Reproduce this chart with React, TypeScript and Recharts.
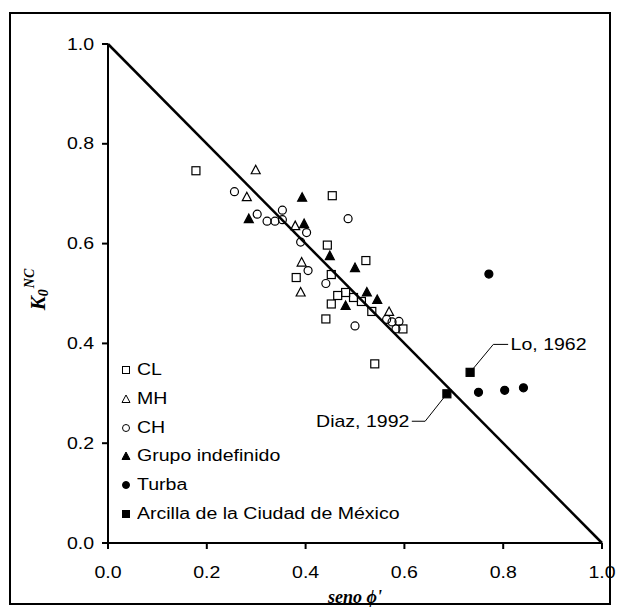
import React from "react";
import {
  ScatterChart,
  Scatter,
  XAxis,
  YAxis,
  ReferenceLine,
  ReferenceDot,
  Label,
} from "recharts";

// seno phi' (x) vs K0 NC (y)
const clPoints = [
  { x: 0.178, y: 0.746 }, { x: 0.454, y: 0.696 }, { x: 0.444, y: 0.597 },
  { x: 0.522, y: 0.566 }, { x: 0.381, y: 0.532 }, { x: 0.452, y: 0.538 },
  { x: 0.465, y: 0.496 }, { x: 0.481, y: 0.502 }, { x: 0.497, y: 0.492 },
  { x: 0.513, y: 0.484 }, { x: 0.452, y: 0.479 }, { x: 0.534, y: 0.464 },
  { x: 0.597, y: 0.429 }, { x: 0.441, y: 0.449 }, { x: 0.54, y: 0.359 },
];
const mhPoints = [
  { x: 0.299, y: 0.747 }, { x: 0.281, y: 0.693 }, { x: 0.379, y: 0.635 },
  { x: 0.392, y: 0.562 }, { x: 0.39, y: 0.502 }, { x: 0.569, y: 0.463 },
];
const chPoints = [
  { x: 0.256, y: 0.704 }, { x: 0.302, y: 0.659 }, { x: 0.322, y: 0.645 },
  { x: 0.338, y: 0.645 }, { x: 0.353, y: 0.648 }, { x: 0.353, y: 0.667 },
  { x: 0.402, y: 0.622 }, { x: 0.39, y: 0.603 }, { x: 0.405, y: 0.546 },
  { x: 0.486, y: 0.65 }, { x: 0.441, y: 0.52 }, { x: 0.5, y: 0.435 },
  { x: 0.564, y: 0.448 }, { x: 0.575, y: 0.443 }, { x: 0.589, y: 0.444 },
  { x: 0.583, y: 0.429 },
];
const grupoPoints = [
  { x: 0.285, y: 0.649 }, { x: 0.393, y: 0.692 }, { x: 0.397, y: 0.639 },
  { x: 0.449, y: 0.575 }, { x: 0.5, y: 0.551 }, { x: 0.524, y: 0.502 },
  { x: 0.545, y: 0.487 }, { x: 0.481, y: 0.475 },
];
const turbaPoints = [
  { x: 0.75, y: 0.302 }, { x: 0.803, y: 0.306 }, { x: 0.841, y: 0.311 },
  { x: 0.771, y: 0.539 },
];
const arcillaPoints = [
  { x: 0.733, y: 0.342 }, { x: 0.686, y: 0.299 },
];

const xTicks = [0, 0.2, 0.4, 0.6, 0.8, 1.0];
const yTicks = [0, 0.2, 0.4, 0.6, 0.8, 1.0];

// K0 = 1 - sin phi'
const jakyLine = [{ x: 0, y: 1 }, { x: 1, y: 0 }];

// leader lines for the two Mexico City labels
const loLeader = [{ x: 0.733, y: 0.342 }, { x: 0.78, y: 0.398 }, { x: 0.81, y: 0.398 }];
const diazLeader = [{ x: 0.686, y: 0.299 }, { x: 0.642, y: 0.244 }, { x: 0.615, y: 0.244 }];
const loLabel = { x: 0.815, y: 0.398, text: "Lo, 1962" };
const diazLabel = { x: 0.61, y: 0.244, text: "Diaz, 1992" };

const FONT = "'Liberation Sans', Arial, sans-serif";
const SERIF = "'Liberation Serif', 'Times New Roman', serif";
const STRETCH = 1.22; // the original text is a bit wide

function Square({ cx, cy, filled }: any) {
  return (
    <rect x={cx - 4} y={cy - 4} width={8} height={8}
      fill={filled ? "#000" : "none"} stroke="#000" strokeWidth={1.2} />
  );
}
function Triangle({ cx, cy, filled }: any) {
  const pts = `${cx},${cy - 5} ${cx + 4.5},${cy + 3.5} ${cx - 4.5},${cy + 3.5}`;
  return <polygon points={pts} fill={filled ? "#000" : "none"} stroke="#000" strokeWidth={1.2} />;
}
function Circle({ cx, cy, filled }: any) {
  return <circle cx={cx} cy={cy} r={4} fill={filled ? "#000" : "none"} stroke="#000" strokeWidth={1.2} />;
}

function XTick({ x, y, payload }: any) {
  return (
    <text transform={`translate(${x},${y}) scale(${STRETCH},1)`} textAnchor="middle"
      dy="0.71em" fontSize={16} fontFamily={FONT} fill="#000">
      {Number(payload.value).toFixed(1)}
    </text>
  );
}
function YTick({ x, y, payload }: any) {
  return (
    <text transform={`translate(${x},${y}) scale(${STRETCH},1)`} textAnchor="end"
      dy="0.355em" fontSize={16} fontFamily={FONT} fill="#000">
      {Number(payload.value).toFixed(1)}
    </text>
  );
}

function XTitle({ viewBox }: any) {
  const cx = viewBox.x + viewBox.width / 2;
  return (
    <text x={cx} y={603} textAnchor="middle" fontFamily={SERIF} fontSize={18}
      fontWeight="bold" fontStyle="italic" fill="#000">
      seno ϕ'
    </text>
  );
}
function YTitle({ viewBox }: any) {
  const cx = 38;
  const cy = viewBox.y + viewBox.height / 2 - 4;
  return (
    <text transform={`translate(${cx},${cy}) rotate(-90)`} textAnchor="middle"
      dominantBaseline="central" fontFamily={SERIF} fontWeight="bold" fontStyle="italic" fill="#000">
      <tspan fontSize={21}>K</tspan>
      <tspan fontSize={14} dy={5}>0</tspan>
      <tspan fontSize={14} dy={-14} dx={1}>NC</tspan>
    </text>
  );
}

function NoteText({ viewBox, text, anchor }: any) {
  return (
    <text transform={`translate(${viewBox.x},${viewBox.y}) scale(${STRETCH},1)`}
      textAnchor={anchor} dy="0.355em" fontSize={16} fontFamily={FONT} fill="#000">
      {text}
    </text>
  );
}

const legendItems = [
  { name: "CL", icon: "sq", filled: false },
  { name: "MH", icon: "tri", filled: false },
  { name: "CH", icon: "ci", filled: false },
  { name: "Grupo indefinido", icon: "tri", filled: true },
  { name: "Turba", icon: "ci", filled: true },
  { name: "Arcilla de la Ciudad de México", icon: "sq", filled: true },
];

function LegendIcon({ icon, filled }: { icon: string; filled: boolean }) {
  const fill = filled ? "#000" : "none";
  return (
    <svg width={10} height={10} style={{ display: "block" }}>
      {icon === "sq" && <rect x={1.5} y={1.5} width={7} height={7} fill={fill} stroke="#000" strokeWidth={1} />}
      {icon === "tri" && <polygon points="5,1 9,8.5 1,8.5" fill={fill} stroke="#000" strokeWidth={1} />}
      {icon === "ci" && <circle cx={5} cy={5} r={3.5} fill={fill} stroke="#000" strokeWidth={1} />}
    </svg>
  );
}

const noShape = () => <g />;

export default function App() {
  return (
    <div style={{ position: "absolute", left: 0, top: 0, width: 619, height: 612, background: "#fff" }}>
      <div
        style={{
          position: "absolute", left: 9, top: 12, width: 602, height: 593,
          border: "2px solid #000", boxSizing: "border-box",
        }}
      />
      <div style={{ position: "absolute", left: 0, top: 0 }}>
        <ScatterChart width={619} height={612} margin={{ top: 44, right: 17, bottom: 9, left: 8 }}>
          <XAxis
            type="number" dataKey="x" domain={[0, 1]} ticks={xTicks}
            axisLine={{ stroke: "#000", strokeWidth: 2 }}
            tickLine={{ stroke: "#000", strokeWidth: 2 }}
            tickSize={6} tickMargin={18} height={60} tick={<XTick />}
          >
            <Label content={<XTitle />} />
          </XAxis>
          <YAxis
            type="number" dataKey="y" domain={[0, 1]} ticks={yTicks}
            axisLine={{ stroke: "#000", strokeWidth: 2 }}
            tickLine={{ stroke: "#000", strokeWidth: 2 }}
            tickSize={6} tickMargin={8} width={100} tick={<YTick />}
          >
            <Label content={<YTitle />} />
          </YAxis>

          <ReferenceLine segment={jakyLine} stroke="#000" strokeWidth={2.5} />

          <Scatter data={loLeader} line={{ stroke: "#000", strokeWidth: 1 }} shape={noShape} isAnimationActive={false} />
          <Scatter data={diazLeader} line={{ stroke: "#000", strokeWidth: 1 }} shape={noShape} isAnimationActive={false} />

          <Scatter data={clPoints} shape={(p: any) => <Square {...p} />} isAnimationActive={false} />
          <Scatter data={mhPoints} shape={(p: any) => <Triangle {...p} />} isAnimationActive={false} />
          <Scatter data={chPoints} shape={(p: any) => <Circle {...p} />} isAnimationActive={false} />
          <Scatter data={grupoPoints} shape={(p: any) => <Triangle {...p} filled />} isAnimationActive={false} />
          <Scatter data={turbaPoints} shape={(p: any) => <Circle {...p} filled />} isAnimationActive={false} />
          <Scatter data={arcillaPoints} shape={(p: any) => <Square {...p} filled />} isAnimationActive={false} />

          <ReferenceDot x={loLabel.x} y={loLabel.y} r={0} stroke="none"
            label={<NoteText text={loLabel.text} anchor="start" />} />
          <ReferenceDot x={diazLabel.x} y={diazLabel.y} r={0} stroke="none"
            label={<NoteText text={diazLabel.text} anchor="end" />} />
        </ScatterChart>
      </div>

      {/* Legend */}
      <div style={{ position: "absolute", left: 121, top: 356, fontFamily: FONT, fontSize: 16, color: "#000" }}>
        {legendItems.map((it) => (
          <div key={it.name} style={{ display: "flex", alignItems: "center", height: 28.7 }}>
            <LegendIcon icon={it.icon} filled={it.filled} />
            <span style={{ marginLeft: 6, display: "inline-block", transform: `scaleX(${STRETCH})`, transformOrigin: "left center", whiteSpace: "nowrap" }}>
              {it.name}
            </span>
          </div>
        ))}
      </div>
    </div>
  );
}
